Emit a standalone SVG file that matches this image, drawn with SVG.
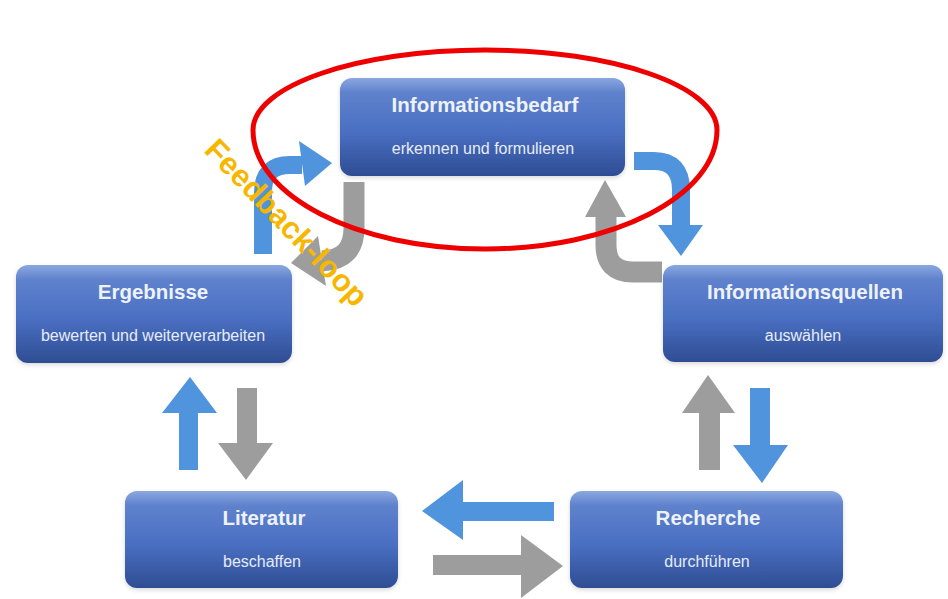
<svg xmlns="http://www.w3.org/2000/svg" width="948" height="599" viewBox="0 0 948 599">
<defs>
<linearGradient id="gBox" x1="0" y1="0" x2="0" y2="1">
<stop offset="0" stop-color="#8aa7df"/>
<stop offset="0.15" stop-color="#5f82cd"/>
<stop offset="0.55" stop-color="#4a6fc2"/>
<stop offset="1" stop-color="#2e4d93"/>
</linearGradient>
<filter id="sh" x="-10%" y="-10%" width="120%" height="130%">
<feDropShadow dx="0" dy="2" stdDeviation="2" flood-color="#000" flood-opacity="0.15"/>
</filter>
</defs>
<style>
.box{fill:url(#gBox);filter:url(#sh)}
.t{font-family:"Liberation Sans",Arial,sans-serif;font-weight:bold;font-size:20.5px;fill:#eef2fa;text-anchor:middle}
.s{font-family:"Liberation Sans",Arial,sans-serif;font-size:16px;fill:#e6ecf8;text-anchor:middle}
.bs{fill:none;stroke:#4f94dc;stroke-linecap:butt}
.bf{fill:#4f94dc}
.gs{fill:none;stroke:#9d9d9d;stroke-linecap:butt}
.gf{fill:#9d9d9d}
</style>
<rect width="948" height="599" fill="#ffffff"/>

<g id="connectors">
<!-- top-left blue curved -->
<path class="bs" stroke-width="18" d="M263,254 V192 Q263,165 290,165 H302"/>
<polygon class="bf" points="299,141 332,163 305,186"/>
<!-- top-left gray curved -->
<path class="gs" stroke-width="21" d="M354,182 V228 Q354,260 322,261"/>
<polygon class="gf" points="318,236 291,263 326,286"/>
<!-- top-right blue curved -->
<path class="bs" stroke-width="18" d="M634,161 H654 Q681,161 681,190 V228"/>
<polygon class="bf" points="658,225 703,225 681,256"/>
<!-- top-right gray curved -->
<path class="gs" stroke-width="21" d="M662,272 H633 Q606,272 606,245 V215"/>
<polygon class="gf" points="585,217 626,217 605,180"/>
<!-- left pair -->
<rect class="bf" x="179" y="410" width="19" height="60"/>
<polygon class="bf" points="162,413 217,413 190,377"/>
<rect class="gf" x="237" y="388" width="20" height="58"/>
<polygon class="gf" points="218,443 273,443 246,480"/>
<!-- right pair -->
<rect class="gf" x="699" y="410" width="21" height="60"/>
<polygon class="gf" points="682,413 735,413 708,375"/>
<rect class="bf" x="750" y="388" width="20" height="60"/>
<polygon class="bf" points="733,445 788,445 762,483"/>
<!-- bottom pair -->
<rect class="bf" x="460" y="502" width="94" height="19"/>
<polygon class="bf" points="463,480 463,540 422,511"/>
<rect class="gf" x="433" y="555" width="92" height="20"/>
<polygon class="gf" points="521,535 521,598 563,566"/>
</g>

<g id="n-informationsbedarf">
<rect class="box" x="340" y="78" width="285" height="98" rx="12"/>
<text class="t" x="485" y="112">Informationsbedarf</text>
<text class="s" x="483" y="154">erkennen und formulieren</text>
</g>
<g id="n-informationsquellen">
<rect class="box" x="663" y="265" width="280" height="97" rx="12"/>
<text class="t" x="805" y="299">Informationsquellen</text>
<text class="s" x="803" y="341">auswählen</text>
</g>
<g id="n-ergebnisse">
<rect class="box" x="16" y="265" width="276" height="98" rx="12"/>
<text class="t" x="153" y="299">Ergebnisse</text>
<text class="s" x="153" y="341">bewerten und weiterverarbeiten</text>
</g>
<g id="n-literatur">
<rect class="box" x="125" y="491" width="273" height="97" rx="12"/>
<text class="t" x="264" y="525">Literatur</text>
<text class="s" x="262" y="567">beschaffen</text>
</g>
<g id="n-recherche">
<rect class="box" x="570" y="491" width="273" height="97" rx="12"/>
<text class="t" x="708" y="525">Recherche</text>
<text class="s" x="707" y="567">durchführen</text>
</g>

<g id="highlight">
<path d="M485,50 C613,50 717,86 717,130 C717,196 613,249 485,249 C357,249 253,196 253,130 C253,86 357,50 485,50 Z" fill="none" stroke="#ee0000" stroke-width="5"/>
<text transform="translate(279,230) rotate(46)" x="0" y="0" font-family="'Liberation Sans',Arial,sans-serif" font-weight="bold" font-size="31" fill="#f7b700" text-anchor="middle">Feedback-loop</text>
</g>
</svg>
